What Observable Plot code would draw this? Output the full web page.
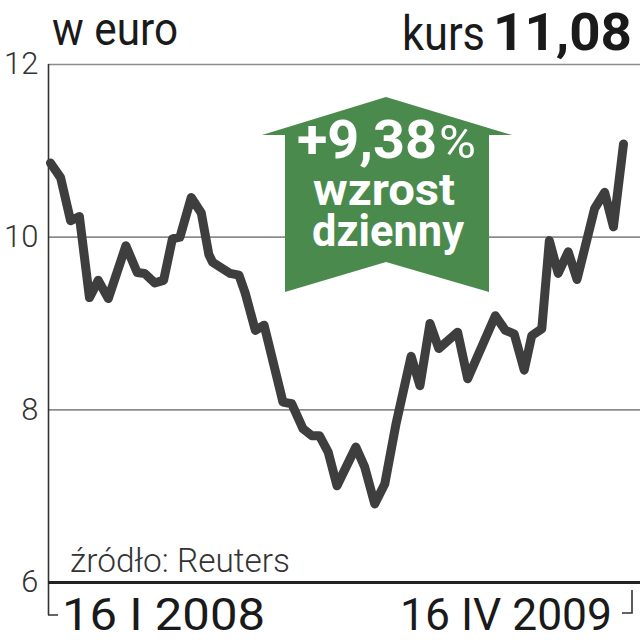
<!DOCTYPE html>
<html>
<head>
<meta charset="utf-8">
<script src="https://cdn.jsdelivr.net/npm/d3@7"></script>
<script src="https://cdn.jsdelivr.net/npm/@observablehq/plot@0.6"></script>
<style>
  html, body { margin: 0; padding: 0; background: #fff; }
  #chart svg { display: block; }
</style>
</head>
<body>
<div id="chart"></div>
<script>
const dates = [
  "2008-01-16","2008-01-24","2008-02-01","2008-02-08","2008-02-16","2008-02-23","2008-03-02",
  "2008-03-16","2008-03-25","2008-03-31","2008-04-08","2008-04-15","2008-04-22","2008-04-28",
  "2008-05-07","2008-05-15","2008-05-21","2008-05-24","2008-06-07","2008-06-14","2008-06-19",
  "2008-06-27","2008-07-04","2008-07-19","2008-07-26","2008-08-04","2008-08-11","2008-08-17",
  "2008-08-24","2008-08-31","2008-09-15","2008-09-22","2008-09-30","2008-10-08","2008-10-17",
  "2008-10-29","2008-11-05","2008-11-13","2008-11-20","2008-12-05","2008-12-13","2009-01-04",
  "2009-01-12","2009-01-19","2009-01-27","2009-02-02","2009-02-10","2009-02-16","2009-02-23",
  "2009-03-03","2009-03-10","2009-03-24","2009-04-01","2009-04-08","2009-04-16"
];
const values = [
  10.86,10.69,10.19,10.24,9.30,9.50,9.29,
  9.90,9.59,9.58,9.47,9.50,9.98,10.00,
  10.46,10.28,9.80,9.71,9.58,9.56,9.35,
  8.92,8.98,8.09,8.07,7.78,7.70,7.70,
  7.51,7.12,7.57,7.34,6.91,7.14,7.84,
  8.62,8.28,9.00,8.71,8.90,8.36,9.09,
  8.92,8.88,8.46,8.86,8.94,9.96,9.58,
  9.83,9.51,10.33,10.52,10.12,11.08
];
const yTicks = [6, 8, 10, 12];
const gridTicks = [8, 10, 12];
const xDomain = ["2008-01-16", "2009-04-16"];
const xLabelStart = "16 I 2008";
const xLabelEnd = "16 IV 2009";
const unitTitle = "w euro";
const priceLabel = "kurs";
const priceValue = "11,08";
const changeLabel = "+9,38";
const changeLines = ["wzrost", "dzienny"];
const sourceText = "źródło: Reuters";

const data = dates.map((d, i) => ({date: new Date(d), value: values[i]}));

const font = "'Roboto', 'Liberation Sans', sans-serif";
const chart = Plot.plot({
  width: 640,
  height: 640,
  marginLeft: 50,
  marginRight: 17,
  marginTop: 64,
  marginBottom: 58,
  style: {fontFamily: font, fontSize: "30px", color: "#333", background: "#fff", overflow: "visible"},
  x: {type: "time", domain: xDomain.map(d => new Date(d)), axis: null},
  y: {domain: [6, 12], axis: null},
  marks: [
    Plot.ruleY(gridTicks, {stroke: "#8c8c8c", strokeWidth: 1.6, insetLeft: -2, insetRight: -17}),
    Plot.ruleX([new Date(xDomain[0])], {y1: 12, y2: 6, dx: -2, stroke: "#333", strokeWidth: 1.6, insetBottom: -33}),
    Plot.axisY({ticks: yTicks, tickSize: 0, tickPadding: 12, tickFormat: d => String(d), label: null, fontSize: 31, fill: "#333", fontWeight: 300}),
    Plot.lineY(data, {x: "date", y: "value", stroke: "#3e3e3e", strokeWidth: 9, strokeLinejoin: "round", strokeLinecap: "round"}),
    Plot.ruleY([6], {stroke: "#222", strokeWidth: 3, insetLeft: -2, insetRight: -17})
  ]
});
document.getElementById("chart").appendChild(chart);

const svg = d3.select(chart);
const xs = chart.scale("x"), ys = chart.scale("y");
const x0 = xs.apply(new Date(xDomain[0])) - 2;
const x1 = xs.apply(new Date(xDomain[1]));
const yb = ys.apply(6);

function txt(parent, {x, y, text, size, anchor = "start", weight = "normal", fill = "#1a1a1a", len = null}) {
  const t = parent.append("text").attr("x", x).attr("y", y).attr("text-anchor", anchor)
    .attr("font-family", font).attr("font-size", size).attr("font-weight", weight)
    .attr("fill", fill).text(text);
  if (len) t.attr("textLength", len).attr("lengthAdjust", "spacingAndGlyphs");
  return t;
}

// bracket below the axis
svg.append("path")
  .attr("d", `M${x0},${yb + 33}H${x0 + 10}M${x1 + 9},${yb + 8}V${yb + 31}H${x1 - 1}`)
  .attr("fill", "none").attr("stroke", "#333").attr("stroke-width", 1.6);

// date labels
txt(svg, {x: x0 + 14, y: yb + 48, text: xLabelStart, size: 44, len: 203});
txt(svg, {x: x1 - 11, y: yb + 48, text: xLabelEnd, size: 44, anchor: "end", len: 212});

// source
txt(svg, {x: x0 + 22, y: yb - 10, text: sourceText, size: 33, weight: 300, fill: "#333", len: 220});

// header
txt(svg, {x: 52, y: 45, text: unitTitle, size: 46, len: 126});
txt(svg, {x: 402, y: 50, text: priceLabel, size: 48, len: 83});
txt(svg, {x: 632, y: 50, text: priceValue, size: 52, anchor: "end", weight: "bold", len: 139});

// green arrow annotation
const g = svg.append("g");
g.append("path")
  .attr("d", "M386,97L512,135L489,135L489,292L386,262L285,292L285,135L262,135Z")
  .attr("fill", "#4a8b4d");
txt(g, {x: 297, y: 158, text: changeLabel, size: 54, weight: "bold", fill: "#fff", len: 140});
txt(g, {x: 439, y: 158, text: "%", size: 46, fill: "#fff", len: 37});
txt(g, {x: 384, y: 205, text: changeLines[0], size: 44, anchor: "middle", weight: "bold", fill: "#fff", len: 142});
txt(g, {x: 388, y: 246, text: changeLines[1], size: 44, anchor: "middle", weight: "bold", fill: "#fff", len: 152});
</script>
</body>
</html>
